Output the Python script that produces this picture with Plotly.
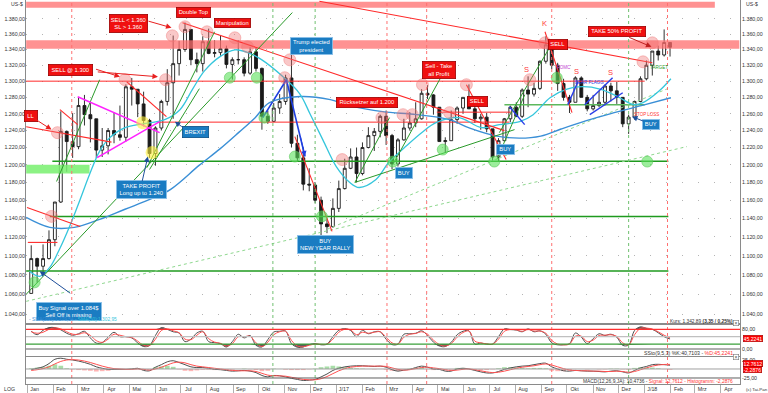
import math
import pandas as pd
import plotly.graph_objects as go

FONT = "Liberation Sans, Arial, sans-serif"

# ------------------------------------------------------------------ data
weeks = pd.date_range("2016-01-06", periods=109, freq="7D")   # weekly bars (mid-week)

price_open = [1061, 1097, 1089, 1097, 1117, 1158, 1239, 1227, 1221, 1270, 1259, 1254, 1217, 1222, 1240, 1235,
              1232, 1293, 1290, 1272, 1252, 1213, 1243, 1275, 1298, 1322, 1340, 1366, 1327, 1322, 1350, 1335,
              1336, 1341, 1321, 1327, 1327, 1310, 1337, 1316, 1257, 1251, 1267, 1275, 1304, 1225, 1208, 1178,
              1177, 1160, 1134, 1131, 1151, 1173, 1196, 1209, 1190, 1220, 1234, 1239, 1257, 1234, 1201, 1229,
              1243, 1249, 1254, 1285, 1283, 1268, 1227, 1228, 1253, 1267, 1280, 1266, 1254, 1256, 1242, 1209,
              1228, 1254, 1268, 1257, 1289, 1284, 1291, 1325, 1346, 1320, 1297, 1280, 1274, 1304, 1280, 1266,
              1270, 1274, 1294, 1288, 1280, 1248, 1256, 1275, 1303, 1320, 1338, 1333, 1349]
price_high = [1111, 1098, 1112, 1127, 1158, 1263, 1240, 1261, 1280, 1283, 1273, 1254, 1243, 1243, 1262, 1270,
              1296, 1304, 1290, 1287, 1254, 1245, 1277, 1315, 1358, 1351, 1375, 1366, 1336, 1357, 1367, 1352,
              1358, 1345, 1330, 1352, 1330, 1343, 1342, 1317, 1264, 1273, 1284, 1308, 1338, 1235, 1220, 1196,
              1180, 1164, 1140, 1162, 1182, 1207, 1219, 1220, 1226, 1244, 1243, 1259, 1264, 1236, 1231, 1254,
              1262, 1274, 1290, 1295, 1284, 1268, 1232, 1264, 1269, 1280, 1296, 1275, 1260, 1261, 1242, 1231,
              1255, 1270, 1274, 1291, 1306, 1298, 1326, 1357, 1348, 1323, 1303, 1283, 1306, 1306, 1283, 1283,
              1288, 1296, 1298, 1299, 1280, 1259, 1276, 1306, 1326, 1338, 1345, 1366, 1349]
price_low = [1061, 1072, 1080, 1096, 1110, 1157, 1192, 1208, 1218, 1246, 1226, 1208, 1209, 1212, 1225, 1228,
             1227, 1270, 1256, 1245, 1208, 1199, 1240, 1270, 1254, 1307, 1337, 1320, 1311, 1312, 1334, 1330,
             1332, 1316, 1302, 1321, 1306, 1308, 1312, 1241, 1248, 1250, 1260, 1271, 1220, 1204, 1171, 1170,
             1157, 1122, 1124, 1130, 1147, 1172, 1195, 1180, 1188, 1219, 1216, 1232, 1223, 1195, 1198, 1228,
             1240, 1244, 1253, 1278, 1259, 1227, 1214, 1228, 1248, 1260, 1266, 1249, 1241, 1238, 1205, 1204,
             1228, 1250, 1256, 1255, 1268, 1281, 1289, 1322, 1315, 1288, 1276, 1261, 1274, 1280, 1263, 1264,
             1268, 1270, 1275, 1272, 1244, 1236, 1253, 1274, 1301, 1307, 1326, 1331, 1331]
price_close = [1097, 1089, 1097, 1117, 1158, 1239, 1227, 1221, 1270, 1259, 1254, 1217, 1222, 1240, 1235, 1232,
               1293, 1290, 1272, 1252, 1213, 1243, 1275, 1298, 1322, 1340, 1366, 1327, 1322, 1350, 1335, 1336,
               1341, 1321, 1327, 1327, 1310, 1337, 1316, 1257, 1251, 1267, 1275, 1304, 1225, 1208, 1178, 1177,
               1160, 1134, 1131, 1151, 1173, 1196, 1209, 1190, 1220, 1234, 1239, 1257, 1234, 1201, 1229, 1243,
               1249, 1254, 1285, 1283, 1268, 1227, 1228, 1253, 1267, 1280, 1266, 1254, 1256, 1242, 1209, 1228,
               1254, 1268, 1257, 1289, 1284, 1291, 1325, 1346, 1320, 1297, 1280, 1274, 1304, 1280, 1266, 1270,
               1274, 1294, 1288, 1280, 1248, 1256, 1275, 1303, 1320, 1338, 1333, 1349, 1342.89]

sma200_dates = ["2015-12-31", "2016-01-28", "2016-02-26", "2016-03-27", "2016-04-26", "2016-05-26", "2016-06-19",
                "2016-07-23", "2016-08-16", "2016-09-08", "2016-09-27", "2016-10-14", "2016-11-19", "2016-12-25",
                "2017-01-17", "2017-02-25", "2017-04-06", "2017-05-15", "2017-06-08", "2017-07-10", "2017-08-06",
                "2017-08-31", "2017-09-24", "2017-10-24", "2017-11-22", "2017-12-28", "2018-02-01"]
sma200_vals = [1141.1, 1130.2, 1130.2, 1138.9, 1150.0, 1161.1, 1172.2, 1199.6, 1218.1, 1238.1, 1255.4, 1273.5,
               1281.0, 1277.2, 1269.9, 1262.6, 1259.0, 1253.0, 1242.8, 1233.4, 1231.0, 1233.4, 1241.8, 1251.8,
               1260.3, 1269.9, 1279.54]

sma50_dates = ["2016-01-04", "2016-01-16", "2016-01-28", "2016-02-09", "2016-02-21", "2016-03-04", "2016-03-15",
               "2016-03-27", "2016-04-08", "2016-04-26", "2016-05-19", "2016-06-12", "2016-06-30", "2016-07-15",
               "2016-07-29", "2016-08-16", "2016-09-03", "2016-09-19", "2016-10-05", "2016-10-30", "2016-11-19",
               "2016-12-01", "2016-12-16", "2017-01-01", "2017-01-17", "2017-01-28", "2017-02-17", "2017-03-04",
               "2017-03-24", "2017-04-12", "2017-04-29", "2017-05-26", "2017-06-22", "2017-07-13", "2017-08-06",
               "2017-08-22", "2017-09-11", "2017-10-01", "2017-10-20", "2017-11-09", "2017-11-30", "2017-12-19",
               "2017-12-30", "2018-01-18", "2018-02-01"]
sma50_vals = [1083.7, 1078.5, 1087.8, 1107.9, 1132.6, 1161.1, 1188.9, 1215.8, 1231.6, 1243.4, 1248.2, 1253.0,
              1265.0, 1290.2, 1312.8, 1330.6, 1339.6, 1335.8, 1326.8, 1305.5, 1284.1, 1259.8, 1229.3, 1198.0,
              1179.9, 1174.2, 1183.2, 1202.6, 1221.1, 1237.5, 1249.4, 1255.4, 1243.4, 1247.0, 1250.6, 1259.0,
              1279.6, 1290.2, 1293.1, 1290.2, 1281.0, 1271.1, 1273.5, 1287.7, 1302.95]

stoch_k = [72, 58, 76, 87, 87, 78, 64, 56, 62, 72, 45, 24, 26, 48, 68, 50, 50, 45, 25, 10, 14, 55, 87, 80, 70,
           65, 30, 40, 65, 72, 30, 26, 22, 8, 30, 60, 45, 55, 15, 8, 38, 69, 72, 73, 22, 7, 8, 18, 22, 17, 20,
           50, 76, 83, 75, 50, 76, 62, 70, 70, 40, 18, 20, 60, 62, 64, 74, 55, 28, 12, 10, 27, 58, 72, 74, 20,
           24, 20, 20, 50, 82, 79, 77, 70, 82, 70, 74, 60, 25, 17, 17, 22, 65, 48, 22, 42, 62, 55, 60, 48, 15,
           16, 75, 90, 84, 80, 66, 50, 40.71]
stoch_d = [70, 64, 68, 80, 86, 82, 70, 60, 60, 66, 55, 34, 27, 40, 60, 56, 50, 47, 32, 15, 14, 40, 75, 82, 74,
           66, 40, 38, 56, 70, 42, 28, 23, 12, 22, 50, 50, 52, 25, 10, 28, 58, 70, 72, 35, 12, 9, 15, 20, 19, 20,
           40, 68, 80, 78, 58, 68, 64, 68, 70, 48, 25, 20, 48, 60, 63, 70, 60, 36, 18, 12, 22, 48, 67, 73, 32,
           25, 21, 20, 40, 72, 79, 78, 72, 79, 73, 73, 64, 35, 20, 17, 20, 52, 52, 30, 36, 55, 56, 58, 51, 25,
           17, 58, 84, 85, 81, 70, 56, 45.22]

macd = [-2, 2, 6, 15, 27, 30, 27, 25, 22, 18, 13, 6, 2, -1, -1, -1, -1, 0, 2, -4, -5, 5, 12, 20, 23, 18, 12, 6,
        4, 4, 2, -1, -2, -4, -6, -5, -4, -6, -10, -18, -22, -18, -19, -22, -26, -29, -32, -31, -29, -22, -14,
        -4, 2, 6, 8, 9, 9, 8, 7, 8, 5, -2, -6, -3, -1, 4, 8, 5, 0, -1, -6, -6, 0, 2, 0, -4, -8, -11, -11, -7,
        -1, 3, 6, 8, 9, 12, 15, 16, 6, 0, -5, -6, -4, -5, -6, -6, -7, -8, -6, -5, -8, -11, -4, 3, 7, 12, 13,
        12, 10.47]
macd_signal = [-4, -2, 1, 6, 14, 21, 25, 26, 25, 22, 18, 13, 8, 4, 1, 0, -1, -1, 0, -1, -3, 0, 5, 11, 17, 19,
               17, 12, 8, 6, 4, 2, 0, -2, -4, -5, -5, -5, -7, -12, -17, -19, -19, -20, -23, -26, -29, -30, -30,
               -27, -21, -13, -5, 1, 5, 7, 8, 8, 8, 8, 7, 3, -1, -3, -2, 1, 4, 5, 3, 1, -2, -4, -3, -1, 0, -2,
               -5, -8, -10, -9, -6, -2, 2, 5, 7, 9, 12, 14, 11, 6, 1, -3, -4, -5, -5, -6, -6, -7, -7, -6, -7, -9,
               -7, -2, 3, 8, 11, 12.5, 12.76]

month_starts = pd.date_range("2016-01-01", "2018-04-01", freq="MS")
month_labels = ["Jan", "Feb", "Mrz", "Apr", "Mai", "Jun", "Jul", "Aug", "Sep", "Okt", "Nov", "Dez",
                "J/17", "Feb", "Mrz", "Apr", "Mai", "Jun", "Jul", "Aug", "Sep", "Okt", "Nov", "Dez",
                "J/18", "Feb", "Mrz", "Apr"]
price_ticks = list(range(1040, 1381, 20))

red_circle_dates = ["2016-01-30", "2016-02-06", "2016-04-26", "2016-06-13", "2016-06-21", "2016-07-06",
                    "2016-08-01", "2016-09-03", "2016-09-18", "2016-11-01", "2016-11-07", "2017-01-08",
                    "2017-02-24", "2017-03-21", "2017-04-01", "2017-04-13", "2017-05-15", "2017-06-04",
                    "2017-08-18", "2017-09-05", "2017-12-30", "2018-01-10"]
red_circle_prices = [1142.2, 1237.5, 1301.8, 1301.8, 1357.7, 1369.5, 1362.9, 1355.1, 1343.4, 1304.3, 1326.8,
                     1206.0, 1255.4, 1259.0, 1259.0, 1295.6, 1261.4, 1295.6, 1301.8, 1348.6, 1324.3, 1348.6]
green_circle_dates = ["2016-01-10", "2016-08-28", "2016-09-29", "2016-10-08", "2016-11-13", "2016-12-15",
                      "2017-03-09", "2017-05-07", "2017-07-07", "2017-09-19", "2018-01-04"]
green_circle_prices = [1072.3, 1304.3, 1304.3, 1255.4, 1209.5, 1142.2, 1203.7, 1217.6, 1203.7, 1304.3, 1203.7]
yellow_circle_dates = ["2016-05-17", "2016-05-28"]
yellow_circle_prices = [1249.4, 1214.1]

red_event_dates = ["2016-02-23", "2017-03-02", "2017-04-18", "2017-09-13", "2018-01-28"]
green_event_dates = ["2016-10-18", "2016-12-07", "2017-12-13"]

# ------------------------------------------------------------------ helpers
X_RANGE = ["2015-12-30 19:40", "2018-04-23 19:00"]
Y_RANGE = [math.log10(1031.4), math.log10(1405.0)]
PLOT_W, PLOT_H, ML, MB = 714, 384, 26, 9


def px_x(x):
    return (x - ML) / PLOT_W


def px_y(y):
    return (PLOT_H - y) / PLOT_H


def de(v):
    s = f"{v:,.2f}"
    return s.replace(",", "X").replace(".", ",").replace("X", ".")


fig = go.Figure()


def seg(points, color, width=1.0, dash="solid", yaxis="y"):
    fig.add_trace(go.Scatter(x=[p[0] for p in points], y=[p[1] for p in points], mode="lines",
                             line=dict(color=color, width=width, dash=dash), hoverinfo="skip",
                             showlegend=False, yaxis=yaxis))


def band(x0, x1, y0, y1, color):
    fig.add_trace(go.Scatter(x=[x0, x1, x1, x0, x0], y=[y0, y0, y1, y1, y0], mode="lines", fill="toself",
                             fillcolor=color, line=dict(width=0), hoverinfo="skip", showlegend=False))


# ------------------------------------------------------------------ main panel: bands and levels
band("2015-12-31", "2018-03-25", 1394.5, 1402.5, "rgba(255,110,110,0.75)")
band("2015-12-31", "2018-04-23", 1341.0, 1352.0, "rgba(255,110,110,0.75)")
band("2015-12-31", "2016-03-15", 1190.0, 1200.0, "rgba(120,240,110,0.85)")

RED = "#ff2a2a"
GREEN = "#1f9a1f"
seg([("2015-12-31", 1300), ("2018-01-01", 1300)], RED, 1.0)
seg([("2016-06-03", 1250), ("2017-07-25", 1250)], RED, 1.0)
seg([("2017-04-30", 1262), ("2017-07-27", 1262)], RED, 1.0)
seg([("2016-01-31", 1204), ("2018-01-29", 1204)], GREEN, 1.5)
seg([("2016-01-28", 1142), ("2018-01-29", 1142)], GREEN, 1.5)
seg([("2015-12-31", 1084), ("2018-01-29", 1084)], GREEN, 1.5)
seg([("2017-07-19", 1271), ("2018-01-01", 1271)], "#5cb85c", 1.5)

# dotted long support lines
seg([("2015-12-31", 1053.0), ("2018-02-20", 1221.1)], "#8fd88f", 1.0, "dot")
seg([("2016-12-21", 1128.1), ("2018-01-31", 1291.9)], "#8fd88f", 1.0, "dot")

# moving averages
fig.add_trace(go.Scatter(x=sma200_dates, y=sma200_vals, mode="lines", line=dict(color="#3a8fd6", width=1.4, shape="spline"),
                         hoverinfo="skip", showlegend=False))
fig.add_trace(go.Scatter(x=sma50_dates, y=sma50_vals, mode="lines", line=dict(color="#35c6dc", width=1.3, shape="spline"),
                         hoverinfo="skip", showlegend=False))

# candles
fig.add_trace(go.Candlestick(x=weeks, open=price_open, high=price_high, low=price_low, close=price_close,
                             increasing=dict(line=dict(color="#1a1a1a", width=0.9), fillcolor="#ffffff"),
                             decreasing=dict(line=dict(color="#1a1a1a", width=0.9), fillcolor="#1a1a1a"),
                             whiskerwidth=0, hoverinfo="skip", showlegend=False))

# trend lines
red_lines = [
    [("2016-07-03", 1374.7), ("2017-07-19", 1239.9)],
    [("2016-12-12", 1403.3), ("2018-01-10", 1323.1)],
    [("2016-04-28", 1299.3), ("2016-06-14", 1256.6)],
    [("2015-12-31", 1244.6), ("2016-04-10", 1226.3)],
    [("2016-01-01", 1152.0), ("2016-03-04", 1131.3)],
    [("2016-01-02", 1114.1), ("2016-02-06", 1114.1)],
    [("2016-02-09", 1265.0), ("2016-03-01", 1247.0)],
    [("2016-11-13", 1232.8), ("2016-12-27", 1125.9)],
    [("2017-09-05", 1362.9), ("2017-10-07", 1261.4)],
    [("2017-06-04", 1295.6), ("2017-07-21", 1206.0)],
]
for ln in red_lines:
    seg(ln, RED, 1.1)

green_lines = [
    [("2016-02-05", 1181.0), ("2016-03-27", 1301.8)],
    [("2015-12-31", 1060.1), ("2016-11-10", 1388.2)],
    [("2016-05-22", 1196.8), ("2016-08-10", 1362.9)],
    [("2016-05-25", 1194.6), ("2016-07-23", 1290.7)],
    [("2017-01-23", 1179.9), ("2017-07-31", 1241.1)],
    [("2017-03-09", 1200.3), ("2017-05-07", 1309.0)],
    [("2017-01-23", 1179.9), ("2017-03-05", 1255.4)],
    [("2017-07-10", 1206.0), ("2017-08-12", 1283.2)],
    [("2017-07-13", 1237.5), ("2017-09-11", 1343.4)],
]
for ln in green_lines:
    seg(ln, "#2a9a2a", 1.0)

seg([("2016-03-01", 1280.8), ("2016-06-06", 1237.5)], "#ff22ff", 1.6)
seg([("2016-03-24", 1208.3), ("2016-06-06", 1250.6)], "#ff22ff", 1.6)

seg([("2016-10-06", 1255.4), ("2016-11-03", 1301.8), ("2016-11-25", 1209.5)], "#1f3fe0", 1.6)
for ln in [[("2017-10-02", 1271.1), ("2017-10-14", 1299.3)],
           [("2017-10-22", 1271.1), ("2017-11-24", 1304.3)],
           [("2017-10-28", 1259.0), ("2017-12-06", 1285.7)],
           [("2017-07-25", 1268.6), ("2017-08-12", 1247.0)]]:
    seg(ln, "#2a3ee8", 1.4)

# marker circles
fig.add_trace(go.Scatter(x=red_circle_dates, y=red_circle_prices, mode="markers",
                         marker=dict(size=12, color="rgba(240,110,110,0.38)", line=dict(width=0.8, color="rgba(240,120,120,0.55)")),
                         hoverinfo="skip", showlegend=False))
fig.add_trace(go.Scatter(x=green_circle_dates, y=green_circle_prices, mode="markers",
                         marker=dict(size=11, color="rgba(90,225,90,0.6)", line=dict(width=0.8, color="rgba(90,200,90,0.7)")),
                         hoverinfo="skip", showlegend=False))
fig.add_trace(go.Scatter(x=yellow_circle_dates, y=yellow_circle_prices, mode="markers",
                         marker=dict(size=13, color="rgba(255,240,60,0.6)"),
                         hoverinfo="skip", showlegend=False))

# invisible trace for left price labels
fig.add_trace(go.Scatter(x=[weeks[0]], y=[1200], yaxis="y4", mode="markers", marker=dict(opacity=0),
                         hoverinfo="skip", showlegend=False))

# ------------------------------------------------------------------ stochastic panel
fig.add_trace(go.Scatter(x=weeks, y=[80] * len(weeks), xaxis="x2", yaxis="y2", mode="lines",
                         line=dict(width=0), hoverinfo="skip", showlegend=False))
fig.add_trace(go.Scatter(x=weeks, y=[max(v, 80) for v in stoch_k], xaxis="x2", yaxis="y2", mode="lines",
                         fill="tonexty", fillcolor="#5d5d5d", line=dict(width=0), hoverinfo="skip", showlegend=False))
fig.add_trace(go.Scatter(x=weeks, y=[20] * len(weeks), xaxis="x2", yaxis="y2", mode="lines",
                         line=dict(width=0), hoverinfo="skip", showlegend=False))
fig.add_trace(go.Scatter(x=weeks, y=[min(v, 20) for v in stoch_k], xaxis="x2", yaxis="y2", mode="lines",
                         fill="tonexty", fillcolor="#5d5d5d", line=dict(width=0), hoverinfo="skip", showlegend=False))
fig.add_trace(go.Scatter(x=weeks, y=stoch_k, xaxis="x2", yaxis="y2", mode="lines",
                         line=dict(color="#505050", width=1, shape="spline"), hoverinfo="skip", showlegend=False))
fig.add_trace(go.Scatter(x=weeks, y=stoch_d, xaxis="x2", yaxis="y2", mode="lines",
                         line=dict(color="#ff5050", width=1, shape="spline"), hoverinfo="skip", showlegend=False))

# ------------------------------------------------------------------ MACD panel
macd_hist = [m - s for m, s in zip(macd, macd_signal)]
fig.add_trace(go.Bar(x=weeks, y=macd_hist, xaxis="x3", yaxis="y3",
                     marker=dict(color=["rgba(110,200,110,0.6)" if v >= 0 else "rgba(255,130,130,0.6)" for v in macd_hist],
                                 line=dict(width=0)),
                     hoverinfo="skip", showlegend=False))
fig.add_trace(go.Scatter(x=weeks, y=macd, xaxis="x3", yaxis="y3", mode="lines",
                         line=dict(color="#505050", width=1, shape="spline"), hoverinfo="skip", showlegend=False))
fig.add_trace(go.Scatter(x=weeks, y=macd_signal, xaxis="x3", yaxis="y3", mode="lines",
                         line=dict(color="#ff5050", width=1, shape="spline"), hoverinfo="skip", showlegend=False))

# ------------------------------------------------------------------ shapes
shapes = []
for d in red_event_dates:
    shapes.append(dict(type="line", xref="x", yref="paper", x0=d, x1=d, y0=0, y1=1,
                       line=dict(color="#ff7070", width=1, dash="dot")))
for d in green_event_dates:
    shapes.append(dict(type="line", xref="x", yref="paper", x0=d, x1=d, y0=0, y1=1,
                       line=dict(color="#70c070", width=1, dash="dot")))
for lvl, col in [(80, "#ff3030"), (50, "#c0c0c0"), (20, "#3aa03a"), (0, "#606060")]:
    shapes.append(dict(type="line", xref="paper", yref="y2", x0=0, x1=1, y0=lvl, y1=lvl,
                       line=dict(color=col, width=1.2)))
for lvl, col in [(0, "#a0a0a0"), (-25, "#606060")]:
    shapes.append(dict(type="line", xref="paper", yref="y3", x0=0, x1=1, y0=lvl, y1=lvl,
                       line=dict(color=col, width=1)))

# ------------------------------------------------------------------ annotations
ann = []
RBG, RBD = "#f01010", "#9a0000"
BBG, BBD = "#1a7cc2", "#0b4f85"


def box(text, date, price, bg, bd, w, h, size=5.8):
    ann.append(dict(x=date, y=math.log10(price), xref="x", yref="y", text=text, showarrow=False,
                    bgcolor=bg, bordercolor=bd, borderwidth=0.8, borderpad=0, width=w, height=h,
                    align="center", valign="middle", font=dict(color="white", size=size, family=FONT)))


box("LL", "2016-01-05 17:00", 1257.1, RBG, RBD, 12, 10)
box("SELL @ 1.300", "2016-02-22", 1313.4, RBG, RBD, 43, 10)
box("SELL &lt; 1.360<br>SL &gt; 1.360", "2016-04-30", 1374.0, RBG, RBD, 37, 17)
box("Double Top", "2016-07-16", 1388.2, RBG, RBD, 33, 9)
box("Manipulation", "2016-08-31", 1374.0, RBG, RBD, 35, 8)
box("Rücksetzer auf 1.200", "2017-02-06", 1274.2, RBG, RBD, 60, 9)
box("Sell - Take<br>all Profit", "2017-05-03", 1313.9, RBG, RBD, 32, 16)
box("SELL", "2017-06-17", 1275.5, RBG, RBD, 19, 9)
box("SELL", "2017-09-20", 1346.2, RBG, RBD, 18, 9)
box("TAKE 50% PROFIT", "2017-11-29", 1363.7, RBG, RBD, 56, 9)

box("Trump elected<br>president", "2016-12-03", 1344.9, BBG, "#8fc3ea", 41, 16)
box("BREXIT", "2016-07-18", 1238.1, BBG, BBD, 25, 10)
box("TAKE PROFIT<br>Long up to 1.240", "2016-05-16", 1171.7, BBG, "#8fc3ea", 49, 17)
box("Buy Signal over 1.084$<br>Sell Off is missing", "2016-02-20", 1043.0, BBG, "#8fc3ea", 64, 17)
box("BUY<br>NEW YEAR RALLY", "2016-12-19", 1111.6, BBG, "#8fc3ea", 55, 17)
box("BUY", "2017-03-22", 1190.4, BBG, "#8fc3ea", 16, 10)
box("BUY", "2017-07-20", 1217.5, BBG, "#8fc3ea", 17, 9)
box("BUY", "2018-01-09", 1247.3, BBG, "#8fc3ea", 16, 9)


def label(text, date, price, color, size):
    ann.append(dict(x=date, y=math.log10(price), xref="x", yref="y", text=text, showarrow=False,
                    font=dict(color=color, size=size, family=FONT)))


label("K", "2017-09-05", 1373.4, "#ff3a3a", 7.5)
label("S", "2017-08-14", 1314.2, "#ff3a3a", 7.5)
label("S", "2017-10-12", 1311.7, "#ff3a3a", 7.5)
label("S", "2017-11-21", 1310.5, "#ff3a3a", 7.5)
label("FOMC", "2017-09-28", 1316.8, "#c040d0", 4.5)
label("BEAR FLAGG", "2017-10-28", 1298.0, "#2a3ee8", 4.5)
label("TARGET", "2018-01-18", 1316.8, "#2a9a2a", 4.5)
label("STOP LOSS", "2018-01-03", 1259.0, "#ff3030", 4.5)


def arrow(tail_date, tail_price, head_date, head_price, color):
    ann.append(dict(x=head_date, y=math.log10(head_price), xref="x", yref="y",
                    ax=tail_date, ay=math.log10(tail_price), axref="x", ayref="y",
                    text="", showarrow=True, arrowhead=2, arrowsize=1.1, arrowwidth=1, arrowcolor=color))


arrow("2016-01-08", 1255.4, "2016-01-30", 1241.1, "#e82020")
arrow("2016-03-21", 1315.5, "2016-04-20", 1305.5, "#e82020")
arrow("2016-03-23", 1311.7, "2016-06-04", 1305.5, "#e82020")
arrow("2016-05-22", 1377.4, "2016-06-20", 1368.2, "#e82020")
arrow("2017-12-12", 1356.4, "2018-01-09", 1343.4, "#c02020")
arrow("2016-07-04", 1243.4, "2016-06-24", 1250.6, "#1f4f9a")
arrow("2016-05-16", 1179.9, "2016-05-23", 1209.5, "#1f4f9a")
arrow("2016-02-23", 1060.1, "2016-01-16", 1083.7, "#1f4f9a")
arrow("2018-01-01", 1250.6, "2017-12-17", 1256.6, "#1f4f9a")
arrow("2016-11-19", 1235.1, "2016-11-25", 1209.5, "#1f3fe0")


def ptext(text, x, y, xanchor="left", size=5.2, color="#333333"):
    ann.append(dict(x=px_x(x), y=px_y(y), xref="paper", yref="paper", text=text, showarrow=False,
                    xanchor=xanchor, yanchor="middle", font=dict(color=color, size=size, family=FONT)))


ptext("US-$", 9, 4)
ptext("US-$", 744, 4)
ptext('<span style="color:#3a8fd6">- SMA(200):1.279,54</span> '
      '<span style="color:#35c6dc">- SMA(50):1.302,95</span>', 27, 319, size=4.8)
ptext("Kurs: 1.342,89 <b>(3,35 / 0,25%)</b>", 735, 321, "right", size=4.8)
ptext('SSto(9,5,3) %K:40,7103 - <span style="color:#ff3030">%D:45,2241</span>', 735, 353, "right", size=5.2)
ptext('MACD(12,26,9,JA): 10,4736 - <span style="color:#ff3030">Signal: 12,7612 - Histogramm: -2,2876</span>',
      735, 381, "right", size=4.9)
ptext("LOG", 2, 389, size=5.2)
ptext("(c) Tai-Pan", 743.5, 389, size=4.4)


def valbox(text, y_px):
    ann.append(dict(x=px_x(743), y=px_y(y_px), xref="paper", yref="paper", text=text, showarrow=False,
                    xanchor="left", yanchor="middle", bgcolor="#ff0000", bordercolor="#900000", borderwidth=0.5,
                    borderpad=0, height=6, font=dict(color="white", size=5.2, family=FONT)))


valbox("45,2241", 338)
valbox("12,7612", 363.3)
valbox("-2,2876", 369.6)

for yy in (326, 359.5):
    ann.append(dict(x=px_x(739), y=px_y(yy), xref="paper", yref="paper", text="×", showarrow=False,
                    bgcolor="#ffffff", bordercolor="#777777", borderwidth=0.6, borderpad=0, width=5, height=5,
                    font=dict(color="#444444", size=5, family=FONT)))

# ------------------------------------------------------------------ layout
AX_LINE = "#8a8a8a"
TICKFONT = dict(size=5.3, color="#333333", family=FONT)
main_dom = [px_y(323), 1]
stoch_dom = [px_y(356), px_y(325)]
macd_dom = [0, px_y(357)]

fig.update_layout(
    width=768, height=393, margin=dict(l=ML, r=28, t=0, b=MB),
    paper_bgcolor="white", plot_bgcolor="white", showlegend=False, hovermode=False,
    bargap=0.2, shapes=shapes, annotations=ann,
    xaxis=dict(domain=[0, 1], anchor="y", range=X_RANGE, type="date", showticklabels=False, showgrid=False,
               showline=True, mirror=True, linecolor=AX_LINE, linewidth=1, ticks="", zeroline=False,
               rangeslider=dict(visible=False)),
    xaxis2=dict(domain=[0, 1], anchor="y2", range=X_RANGE, type="date", matches="x", showticklabels=False,
                showgrid=False, showline=True, mirror=True, linecolor=AX_LINE, linewidth=1, ticks=""),
    xaxis3=dict(domain=[0, 1], anchor="y3", range=X_RANGE, type="date", matches="x", showgrid=False,
                showline=True, mirror=True, linecolor=AX_LINE, linewidth=1,
                tickmode="array", tickvals=[d + pd.Timedelta(days=9) for d in month_starts], ticktext=month_labels,
                ticks="", ticklen=2, tickfont=TICKFONT,
                minor=dict(tickmode="array", tickvals=list(month_starts), ticks="outside", ticklen=9,
                           tickcolor="#b0b0b0", tickwidth=1, showgrid=False)),
    yaxis=dict(domain=main_dom, anchor="x", type="log", range=Y_RANGE, side="right",
               tickmode="array", tickvals=price_ticks, ticktext=[de(v) for v in price_ticks], tickfont=TICKFONT,
               ticks="", showgrid=True, gridcolor="#b4b4b4", griddash="1px,15px", gridwidth=1,
               showline=True, mirror=True, linecolor=AX_LINE, linewidth=1, zeroline=False),
    yaxis4=dict(overlaying="y", anchor="x", type="log", range=Y_RANGE, side="left",
                tickmode="array", tickvals=price_ticks, ticktext=[de(v) for v in price_ticks], tickfont=TICKFONT,
                ticks="", showgrid=False, showline=False, zeroline=False),
    yaxis2=dict(domain=stoch_dom, anchor="x2", range=[-28.5, 97.6], side="right",
                tickmode="array", tickvals=[80, 0], ticktext=["80,00", "0,00"], tickfont=TICKFONT, ticks="",
                showgrid=False, showline=True, mirror=True, linecolor=AX_LINE, linewidth=1, zeroline=False),
    yaxis3=dict(domain=macd_dom, anchor="x3", range=[-41.7, 33.3], side="right",
                tickmode="array", tickvals=[25, -25], ticktext=["25,00", "-25,00"], tickfont=TICKFONT, ticks="",
                showgrid=False, showline=True, mirror=True, linecolor=AX_LINE, linewidth=1, zeroline=False),
)

fig.write_html("out.html", config={"displayModeBar": False},
               post_script="document.body.style.margin='0px';document.body.style.padding='0px';")
